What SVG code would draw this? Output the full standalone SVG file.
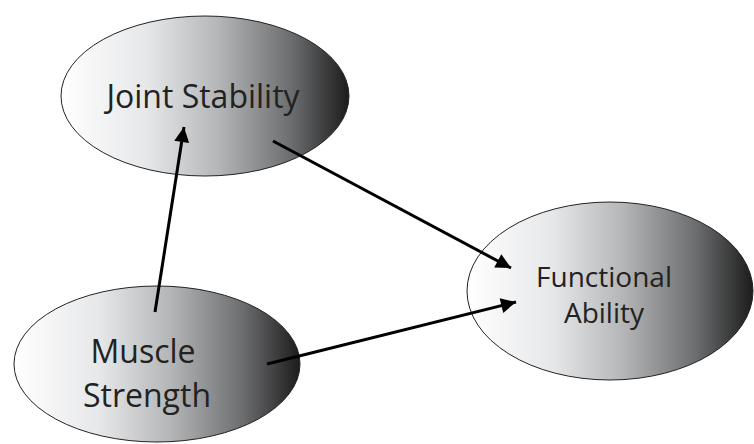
<svg xmlns="http://www.w3.org/2000/svg" width="754" height="444" viewBox="0 0 754 444">
  <defs>
    <linearGradient id="g" x1="0" y1="0" x2="1" y2="0">
      <stop offset="0" stop-color="#ffffff"/>
      <stop offset="0.3" stop-color="#e6e7e9"/>
      <stop offset="0.55" stop-color="#b4b5b7"/>
      <stop offset="0.8" stop-color="#6c6d6f"/>
      <stop offset="1" stop-color="#1c1c1c"/>
    </linearGradient>
    <marker id="ah" viewBox="0 0 10 10" refX="10" refY="5" markerWidth="5.5" markerHeight="5" markerUnits="strokeWidth" orient="auto">
      <path d="M0,0 L10,5 L0,10 z" fill="#000"/>
    </marker>
  </defs>
  <style>
    .node ellipse { fill: url(#g); stroke: #222; stroke-width: 1; }
    .node text { font-family: "Open Sans", "Liberation Sans", sans-serif; font-size: 32px; fill: #222; text-anchor: middle; }
    .node text.sm { font-size: 28px; }
    .edge { stroke: #000; stroke-width: 3; fill: none; marker-end: url(#ah); }
  </style>
  <rect width="754" height="444" fill="#fff"/>
  <g id="joint-stability" class="node">
    <ellipse cx="205" cy="96" rx="144" ry="80"/>
    <text x="203" y="108">Joint Stability</text>
  </g>
  <g id="muscle-strength" class="node">
    <ellipse cx="157" cy="364" rx="143" ry="78"/>
    <text x="143" y="363">Muscle</text>
    <text x="147" y="407">Strength</text>
  </g>
  <g id="functional-ability" class="node">
    <ellipse cx="610" cy="291" rx="143" ry="89"/>
    <text class="sm" x="604" y="287">Functional</text>
    <text class="sm" x="604" y="323">Ability</text>
  </g>
  <g id="connectors">
    <line class="edge" x1="155" y1="312" x2="184" y2="127"/>
    <line class="edge" x1="273" y1="141" x2="511" y2="268"/>
    <line class="edge" x1="267" y1="364" x2="516" y2="302"/>
  </g>
</svg>
